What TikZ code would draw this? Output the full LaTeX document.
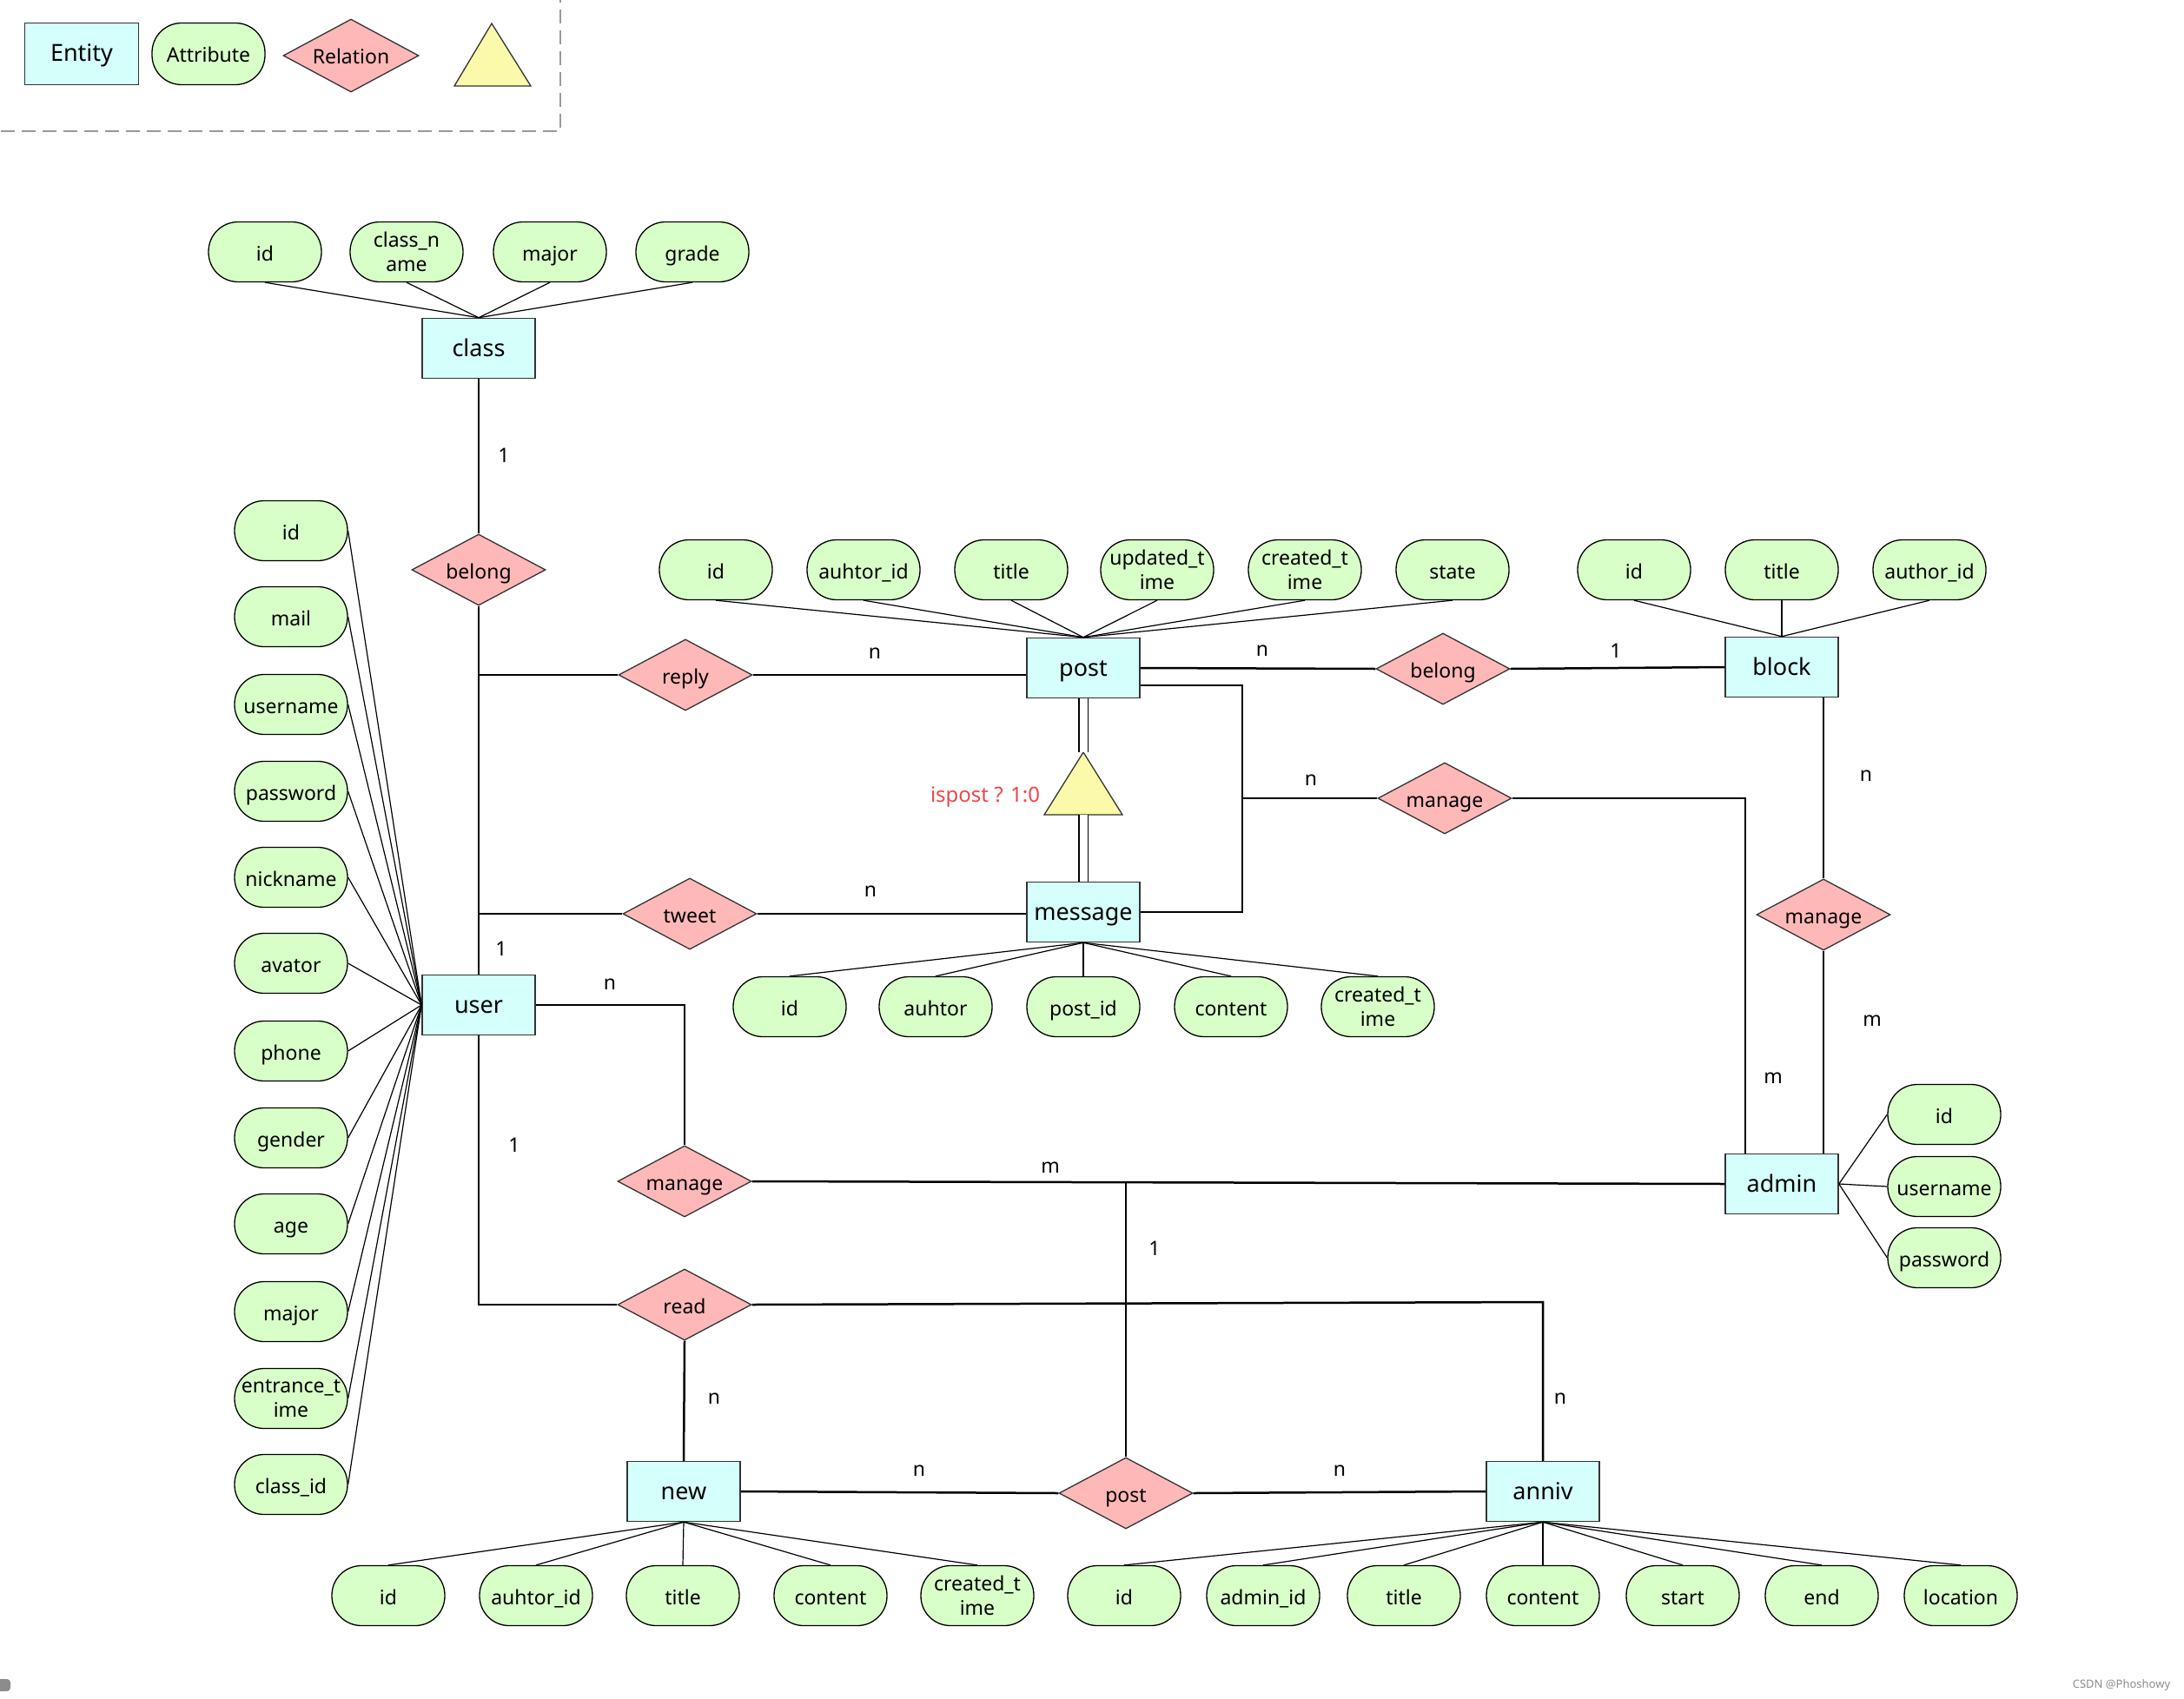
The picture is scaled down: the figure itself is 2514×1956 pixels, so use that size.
\documentclass[tikz,border=0pt]{standalone}
\usepackage{fontspec}
\setmainfont{Noto Sans}
\usetikzlibrary{shapes.geometric}
\definecolor{entfill}{RGB}{212,255,250}
\definecolor{attfill}{RGB}{216,255,200}
\definecolor{relfill}{RGB}{255,184,184}
\definecolor{trifill}{RGB}{250,250,170}
\definecolor{redtxt}{RGB}{240,70,70}
\tikzset{
 entity/.style={draw=black!80, fill=entfill, line width=1.5pt, minimum width=130pt, minimum height=69pt, inner sep=0pt, font=\fontsize{27}{31}\selectfont, text height=21pt, text depth=3pt},
 attr/.style={draw=black, fill=attfill, line width=1.3pt, rounded corners=34pt, minimum width=130pt, minimum height=69pt, inner sep=0pt, align=center, font=\fontsize{23}{28}\selectfont},
 one/.style={text height=21pt, text depth=1pt},
 two/.style={},
 rel/.style={diamond, draw=black!80, fill=relfill, line width=1.3pt, minimum width=154pt, minimum height=82pt, aspect=1.88, inner sep=0pt, font=\fontsize{23}{28}\selectfont, text height=21pt, text depth=1pt},
 thinline/.style={line width=1.2pt},
 conn/.style={line width=2.5pt},
 card/.style={font=\fontsize{23}{28}\selectfont, inner sep=0pt},
 dbl/.style={double, double distance=9pt, line width=1.5pt},
}
\begin{document}
\begin{tikzpicture}[x=1pt,y=-1pt]
\useasboundingbox (0,0) rectangle (2514,1956);
% legend
\draw[draw=black!40, line width=2pt, dash pattern=on 16pt off 8pt] (-20,-20) rectangle (645,151);
\node[entity, minimum width=131pt, minimum height=71pt] (lgEnt) at (94,62) {Entity};
\node[attr, one, minimum height=71pt] (lgAtt) at (240,62) {Attribute};
\node[rel, minimum width=156pt, minimum height=84pt] (lgRel) at (404,64) {Relation};
\draw[fill=trifill, draw=black!80, line width=1.3pt] (566,27) -- (611,99) -- (523,99) -- cycle;
% entities
\node[entity] (class) at (551,401) {class};
\node[entity] (post) at (1247,769) {post};
\node[entity] (block) at (2051,768) {block};
\node[entity] (message) at (1247,1050) {message};
\node[entity] (user) at (551,1157) {user};
\node[entity] (admin) at (2051,1363) {admin};
\node[entity] (new) at (787,1717) {new};
\node[entity] (anniv) at (1776,1717) {anniv};
% relations
\node[rel] (belongA) at (551,656) {belong};
\node[rel] (reply) at (789,777) {reply};
\node[rel] (tweet) at (794,1052) {tweet};
\node[rel] (belongB) at (1661,770) {belong};
\node[rel] (manageA) at (1663,919) {manage};
\node[rel] (manageB) at (2099,1053) {manage};
\node[rel] (manageC) at (788,1360) {manage};
\node[rel] (read) at (788,1502) {read};
\node[rel] (postrel) at (1296,1719) {post};
% triangle
\coordinate (triTop) at (1247,866);
\coordinate (triBot) at (1247,938);
\draw[fill=trifill, draw=black!80, line width=1.3pt] (triTop) -- (1292,938) -- (1202,938) -- cycle;
\node[text=redtxt, font=\fontsize{24}{28}\selectfont, inner sep=0pt] (ispost) at (1134,918) {ispost ? 1:0};
\draw[dbl] (post.south) -- (triTop);
\draw[dbl] (triBot) -- (message.north);
% class attributes
\foreach \n/\x/\t/\s in {ca1/305/id/one, ca2/468/{class\_n\\ame}/two, ca3/633/major/one, ca4/797/grade/one}{
  \node[attr,\s] (\n) at (\x,290) {\t};
  \draw[thinline] (\n.south) -- (class.north);
}
% user attributes
\foreach \n/\y/\t/\s in {ua1/611/id/one, ua2/710/mail/one, ua3/811/username/one, ua4/911/password/one, ua5/1010/nickname/one, ua6/1109/avator/one, ua7/1210/phone/one, ua8/1310/gender/one, ua9/1409/age/one, ua10/1510/major/one, ua11/1610/{entrance\_t\\ime}/two, ua12/1709/class\_id/one}{
  \node[attr,\s] (\n) at (335,\y) {\t};
  \draw[thinline] (\n.east) -- (user.west);
}
% post attributes
\foreach \n/\x/\t/\s in {pa1/824/id/one, pa2/994/auhtor\_id/one, pa3/1164/title/one, pa4/1332/{updated\_t\\ime}/two, pa5/1502/{created\_t\\ime}/two, pa6/1672/state/one}{
  \node[attr,\s] (\n) at (\x,656) {\t};
  \draw[thinline] (\n.south) -- (post.north);
}
% block attributes
\foreach \n/\x/\t in {ba1/1881/id, ba2/2051/title, ba3/2221/author\_id}{
  \node[attr,one] (\n) at (\x,656) {\t};
  \draw[thinline] (\n.south) -- (block.north);
}
% message attributes
\foreach \n/\x/\t/\s in {ma1/909/id/one, ma2/1077/auhtor/one, ma3/1247/post\_id/one, ma4/1417/content/one, ma5/1586/{created\_t\\ime}/two}{
  \node[attr,\s] (\n) at (\x,1159) {\t};
  \draw[thinline] (message.south) -- (\n.north);
}
% admin attributes
\foreach \n/\y/\t in {aa1/1283/id, aa2/1366/username, aa3/1448/password}{
  \node[attr,one] (\n) at (2238,\y) {\t};
  \draw[thinline] (admin.east) -- (\n.west);
}
% new attributes
\foreach \n/\x/\t/\s in {na1/447/id/one, na2/617/auhtor\_id/one, na3/786/title/one, na4/956/content/one, na5/1125/{created\_t\\ime}/two}{
  \node[attr,\s] (\n) at (\x,1837) {\t};
  \draw[thinline] (new.south) -- (\n.north);
}
% anniv attributes
\foreach \n/\x/\t in {va1/1294/id, va2/1454/admin\_id, va3/1616/title, va4/1776/content, va5/1937/start, va6/2097/end, va7/2257/location}{
  \node[attr,one] (\n) at (\x,1837) {\t};
  \draw[thinline] (anniv.south) -- (\n.north);
}
% connectors
\draw[conn] (class.south) -- (belongA.north);
\draw[conn] (belongA.south) -- (user.north);
\draw[conn] (belongA.south |- reply.west) -- (reply.west);
\draw[conn] (belongA.south |- tweet.west) -- (tweet.west);
\draw[conn] (reply.east) -- (reply.east -| post.west);
\draw[conn] (tweet.east) -- (tweet.east -| message.west);
\draw[conn] (post.east) -- (belongB.west);
\draw[conn] (belongB.east) -- (block.west);
\coordinate (j1) at (1430,789);
\draw[conn] ([yshift=-20pt]post.east) -- (j1) -- (j1 |- message.east) -- (message.east);
\draw[conn] (j1 |- manageA.west) -- (manageA.west);
\coordinate (j2) at (2009,919);
\draw[conn] (manageA.east) -- (j2) -- (j2 |- admin.north);
\draw[conn] (manageB.north) -- (manageB.north |- block.south);
\draw[conn] (manageB.south) -- (manageB.south |- admin.north);
\draw[conn] (user.east) -| (manageC.north);
\draw[conn] (manageC.east) -- (admin.west);
\coordinate (j3) at (1296,1362);
\draw[conn] (j3) -- (postrel.north);
\draw[conn] (user.south) |- (read.west);
\coordinate (j4) at (1776,1499);
\draw[conn] (read.east) -- (j4) -- (anniv.north);
\draw[conn] (read.south) -- (new.north);
\draw[conn] (new.east) -- (postrel.west);
\draw[conn] (postrel.east) -- (anniv.west);
% cardinalities
\node[card] (c1) at (580,524) {1};
\node[card] (c2) at (577,1092) {1};
\node[card] (c3) at (1007,752) {n};
\node[card] (c4) at (1002,1026) {n};
\node[card] (c5) at (1453,749) {n};
\node[card] (c6) at (1860,749) {1};
\node[card] (c7) at (1509,898) {n};
\node[card] (c8) at (2041,1241) {m};
\node[card] (c9) at (2148,893) {n};
\node[card] (c10) at (2155,1175) {m};
\node[card] (c11) at (702,1133) {n};
\node[card] (c12) at (1209,1344) {m};
\node[card] (c13) at (1329,1437) {1};
\node[card] (c14) at (592,1318) {1};
\node[card] (c15) at (1796,1610) {n};
\node[card] (c16) at (822,1610) {n};
\node[card] (c17) at (1058,1693) {n};
\node[card] (c18) at (1542,1693) {n};
% watermark
\node[text=black!45, font=\fontsize{13}{15}\selectfont, inner sep=0pt] (wm) at (2442,1940) {CSDN @Phoshowy};
\fill[black!45, rounded corners=4pt] (-6,1933) rectangle (12,1947);
\end{tikzpicture}
\end{document}
